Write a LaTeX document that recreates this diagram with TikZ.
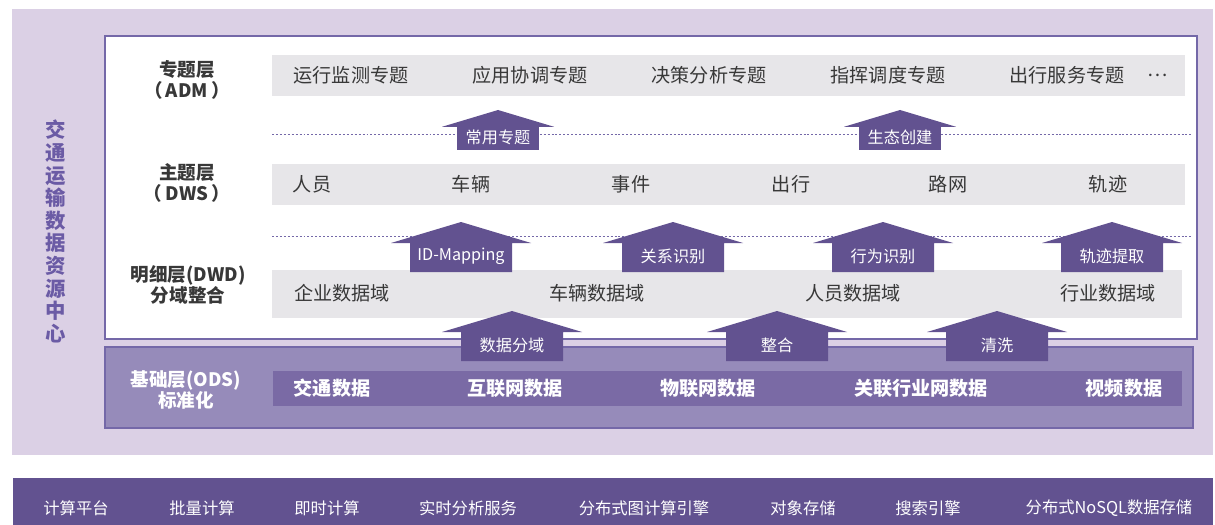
\documentclass[tikz,border=0pt]{standalone}
\usepackage{fontspec}
\setmainfont{Noto Sans CJK SC}
\usepackage{tikz}
\usetikzlibrary{calc}
\definecolor{lilac}{HTML}{DBD0E5}
\definecolor{frame}{HTML}{7468A8}
\definecolor{deep}{HTML}{625290}
\definecolor{odsfill}{HTML}{968BBA}
\definecolor{odsrow}{HTML}{7A6AA5}
\definecolor{rowgray}{HTML}{E7E6E9}
\definecolor{ink}{HTML}{383838}
\definecolor{titlecol}{HTML}{6B5BA5}

% block arrow: name, tip x, tip y, scale, label
\newcommand{\uparr}[5]{%
  \fill[deep] (#2,#3) -- ++(70*#4,21*#4) -- ++(-19*#4,0) -- ++(0,29*#4)
    -- ++(-102*#4,0) -- ++(0,-29*#4) -- ++(-19*#4,0) -- cycle;
  \node[arrtext] (#1) at (#2,#3+34*#4) {#5};}

\tikzset{
  item/.style={text=ink, font=\fontsize{13.6}{15}\selectfont, inner sep=0pt},
  odsitem/.style={text=white, font=\fontsize{13.6}{15}\selectfont\bfseries, inner sep=0pt},
  layer/.style={text=ink, align=center, font=\fontsize{13.2}{15.2}\selectfont\bfseries, inner sep=0pt},
  arrtext/.style={text=white, font=\fontsize{11.5}{13}\selectfont, inner sep=0pt},
  baritem/.style={text=white, font=\fontsize{11.6}{13}\selectfont, inner sep=0pt},
  sepline/.style={frame, line width=0.7pt, dash pattern=on 1.4pt off 1.4pt}
}

\begin{document}
\begin{tikzpicture}[x=0.025cm, y=-0.025cm]
        \useasboundingbox (0,0) rectangle (1215,525);
        % background
        \fill[lilac] (12,9) rectangle (1213,455);
        \fill[deep] (13,478) rectangle (1213,525);
        \draw[frame, line width=1pt, fill=white] (105,36) rectangle (1197,339);
        \draw[frame, line width=1pt, fill=odsfill] (105,347) rectangle (1193,428);

        % title
        \node[text=titlecol, align=center, font=\fontsize{14.5}{16.1}\selectfont\bfseries] (title) at (56,231.5)
            {交\\通\\运\\输\\数\\据\\资\\源\\中\\心};

        % layer labels
        \node[layer] (adm) at (187,80) {专题层\\（\,ADM\,）};
        \node[layer] (dws) at (187,183) {主题层\\（\,DWS\,）};
        \node[layer] (dwd) at (188,285) {明细层(DWD)\\分域整合};
        \node[layer, text=white] (ods) at (186,390) {基础层(ODS)\\标准化};

        % rows
        \fill[rowgray] (272,55) rectangle (1185,96);
        \fill[rowgray] (272,164) rectangle (1185,205);
        \fill[rowgray] (272,270) rectangle (1182,318);
        \fill[odsrow] (273,371) rectangle (1182,406);
        \draw[sepline] (272,134) -- (1193,134);
        \draw[sepline] (272,236) -- (1193,236);

        \foreach \t/\x [count=\i] in {运行监测专题/351, 应用协调专题/530, 决策分析专题/709, 指挥调度专题/888, 出行服务专题/1067, …/1158}
            \node[item] (a\i) at (\x,75) {\t};
        \foreach \t/\x [count=\i] in {人员/312, 车辆/471, 事件/631, 出行/791, 路网/948, 轨迹/1108}
            \node[item] (s\i) at (\x,184) {\t};
        \foreach \t/\x [count=\i] in {企业数据域/342, 车辆数据域/597, 人员数据域/853, 行业数据域/1108}
            \node[item] (d\i) at (\x,293) {\t};
        \foreach \t/\x [count=\i] in {交通数据/332, 互联网数据/515, 物联网数据/708, 关联行业网数据/921, 视频数据/1124}
            \node[odsitem] (o\i) at (\x,388) {\t};

        % arrows
        \uparr{f1}{498}{110}{0.8}{常用专题}
        \uparr{f2}{900}{110}{0.8}{生态创建}
        \uparr{g1}{461}{222}{1}{ID-Mapping}
        \uparr{g2}{673}{222}{1}{关系识别}
        \uparr{g3}{883}{222}{1}{行为识别}
        \uparr{g4}{1112}{222}{1}{轨迹提取}
        \uparr{h1}{512}{311}{1}{数据分域}
        \uparr{h2}{777}{311}{1}{整合}
        \uparr{h3}{997}{311}{1}{清洗}

        % platform bar
        \foreach \t/\x [count=\i] in {计算平台/76, 批量计算/202, 即时计算/327, 实时分析服务/468, 分布式图计算引擎/644, 对象存储/803, 搜索引擎/928, 分布式NoSQL数据存储/1109}
            \node[baritem] (p\i) at (\x,508) {\t};
\end{tikzpicture}
\end{document}
